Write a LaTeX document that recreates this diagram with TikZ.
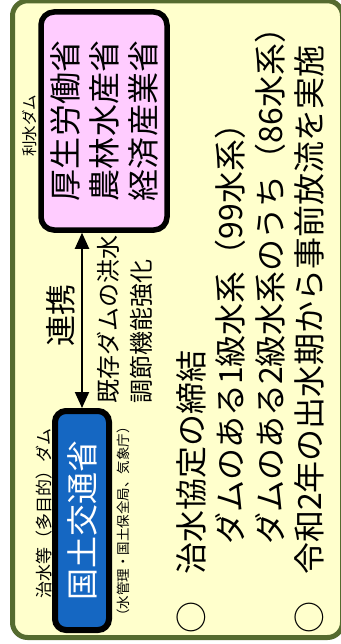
\documentclass[tikz,border=0pt]{standalone}
\usepackage{fontspec}
\setmainfont{Noto Sans CJK JP}
\usetikzlibrary{arrows.meta}
\definecolor{bgyellow}{HTML}{FFFFCC}
\definecolor{olivec}{HTML}{556B2F}
\definecolor{pinkfill}{HTML}{FFCCFF}
\definecolor{bluefill}{HTML}{1567C2}
\newcommand\sst{\rule[-0.12em]{0pt}{1em}}
\newcommand\fsz[2]{\fontsize{#1}{#2}\selectfont}
\tikzset{
  txt/.style={rotate=90, inner sep=0pt},
  orgbox/.style={rotate=90, draw=black, rounded corners=13pt, inner sep=0pt, align=center},
  link/.style={line width=2pt, {Triangle[length=16pt,width=14pt]}-{Triangle[length=16pt,width=14pt]}}
}
\begin{document}
\begin{tikzpicture}[x=1pt,y=1pt]
\useasboundingbox (0,0) rectangle (340,-644);
% outer frame
\draw[olivec, line width=5pt, fill=bgyellow, rounded corners=15pt] (12.5,-0.8) rectangle (342.5,-637.5);
% pink box
\node[orgbox, fill=pinkfill, line width=5.5pt, minimum width=218pt, minimum height=126pt, font=\fsz{32}{39}]
  (pink) at (104,-121) {\sst 厚生労働省\\\sst 農林水産省\\\sst 経済産業省};
\node[txt, font=\fsz{15.5}{18}] (risui) at (30,-126) {\sst 利水ダム};
% blue box
\node[orgbox, fill=bluefill, text=white, line width=6pt, minimum width=219pt, minimum height=54pt, rounded corners=11pt, font=\fsz{32}{39}]
  (blue) at (82,-520.5) {\sst 国土交通省};
\node[txt, font=\fsz{17}{20}] (chisui) at (44,-513) {\sst 治水等（多目的）ダム};
\node[txt, font=\fsz{13.5}{16}] (kanri) at (123,-521.5) {\sst （水管理・国土保全局、気象庁）};
% connector
\draw[link] (blue.east) -- (blue.east |- pink.west);
\node[txt, font=\fsz{31}{36}] (renkei) at (61,-315) {\sst 連携};
\node[txt, anchor=west, align=left, font=\fsz{24}{33}] (kizon) at (124.5,-404) {\sst 既存ダムの洪水\\\sst 調節機能強化};
% main text
\node[txt, font=\fsz{32}{39}] (c1) at (191,-617) {\sst ○};
\node[txt, font=\fsz{32}{39}] (c2) at (309,-617) {\sst ○};
\node[txt, anchor=west, font=\fsz{32}{39}] (l1) at (191,-575) {\sst 治水協定の締結};
\node[txt, anchor=west, font=\fsz{32}{39}] (l2) at (230,-545) {\sst ダムのある1級水系（99水系）};
\node[txt, anchor=west, font=\fsz{32}{39}] (l3) at (270,-545) {\sst ダムのある2級水系のうち（86水系）};
\node[txt, anchor=west, font=\fsz{32}{39}] (l4) at (309,-575) {\sst 令和2年の出水期から事前放流を実施};
\end{tikzpicture}
\end{document}
